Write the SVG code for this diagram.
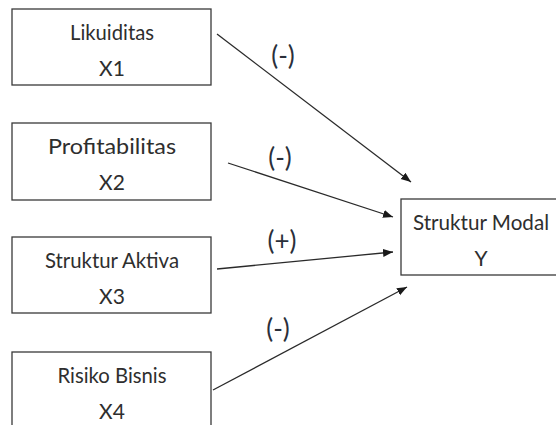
<svg xmlns="http://www.w3.org/2000/svg" width="556" height="425" viewBox="0 0 556 425">
<style>
.box{fill:#fff;stroke:#3a3a3a;stroke-width:1.3}
.t{font-family:Lato,"Open Sans","Liberation Sans",sans-serif;font-size:21px;fill:#2e2e2e;text-anchor:middle}
.sign{font-family:Lato,"Open Sans","Liberation Sans",sans-serif;font-size:26px;fill:#2a2f3a;text-anchor:middle}
.c{stroke:#2a2a2a;stroke-width:1.3;fill:none;marker-end:url(#ah)}
</style>
<defs>
<marker id="ah" markerUnits="userSpaceOnUse" markerWidth="12" markerHeight="10" refX="10" refY="4" orient="auto">
<path d="M0,0 L10,4 L0,8 z" fill="#1a1a1a"/>
</marker>
</defs>
<rect width="556" height="425" fill="#fff"/>
<g id="x1"><rect class="box" x="12" y="9" width="199" height="76"/><text class="t" x="112" y="40" textLength="84" lengthAdjust="spacingAndGlyphs">Likuiditas</text><text class="t" x="112" y="76">X1</text></g>
<g id="x2"><rect class="box" x="12" y="123" width="199" height="77"/><text class="t" x="112" y="154" textLength="128" lengthAdjust="spacingAndGlyphs">Profitabilitas</text><text class="t" x="112" y="190">X2</text></g>
<g id="x3"><rect class="box" x="12" y="237" width="199" height="76"/><text class="t" x="112" y="268" textLength="134" lengthAdjust="spacingAndGlyphs">Struktur Aktiva</text><text class="t" x="112" y="304">X3</text></g>
<g id="x4"><rect class="box" x="12" y="352" width="199" height="80"/><text class="t" x="112" y="383" textLength="109" lengthAdjust="spacingAndGlyphs">Risiko Bisnis</text><text class="t" x="112" y="419">X4</text></g>
<g id="y"><rect class="box" x="401" y="199" width="160" height="76"/><text class="t" x="481" y="230" textLength="136" lengthAdjust="spacingAndGlyphs">Struktur Modal</text><text class="t" x="481" y="266">Y</text></g>
<g id="connectors">
<line class="c" x1="217" y1="34" x2="411" y2="182"/>
<line class="c" x1="228" y1="163" x2="393" y2="217"/>
<line class="c" x1="217" y1="269" x2="393" y2="252"/>
<line class="c" x1="213" y1="390" x2="407" y2="287"/>
<text class="sign" x="283" y="65">(-)</text>
<text class="sign" x="280" y="167">(-)</text>
<text class="sign" x="282" y="250">(+)</text>
<text class="sign" x="278" y="338">(-)</text>
</g>
</svg>
